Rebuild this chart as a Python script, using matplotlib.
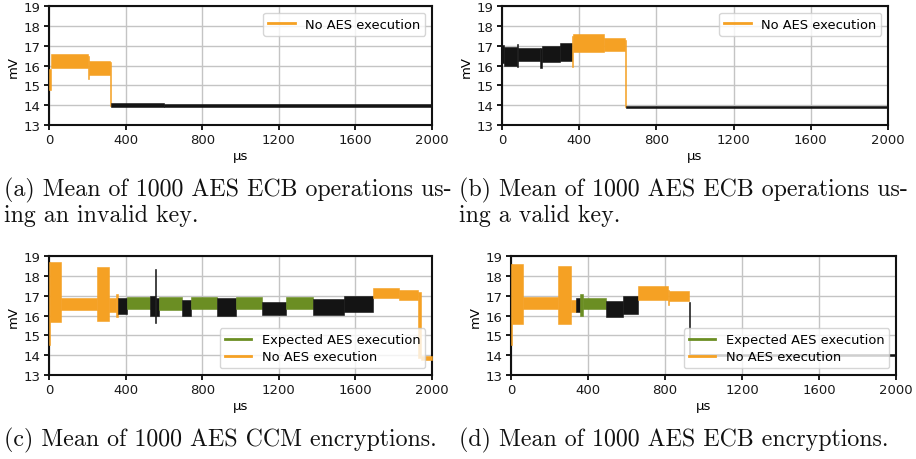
import matplotlib
matplotlib.use("Agg")
import matplotlib.pyplot as plt
from matplotlib.lines import Line2D

# Colour per trace kind
ORANGE = "#f5a124"
GREEN = "#6b8e23"
BLACK = "#141414"
KIND_COLOR = {"idle": ORANGE, "aes": GREEN, "other": BLACK}

# ── Trace envelopes read off the oscilloscope captures (µs, mV) ─────────────
# each segment: start, end, lower envelope, upper envelope, kind

# (a) invalid key
a_start = [0, 12, 202, 208, 316, 322, 600]
a_end = [12, 202, 208, 316, 322, 600, 2000]
a_lo = [14.75, 15.85, 15.3, 15.5, 13.95, 13.93, 13.93]
a_hi = [15.8, 16.6, 16.5, 16.25, 16.2, 14.1, 14.06]
a_kind = ["idle", "idle", "idle", "idle", "idle", "other", "other"]

# (b) valid key
b_start = [0, 10, 78, 84, 199, 205, 300, 364, 370, 530, 636, 645]
b_end = [10, 78, 84, 199, 205, 300, 364, 370, 530, 636, 645, 2000]
b_lo = [16.15, 16.0, 15.9, 16.25, 15.85, 16.2, 16.25, 15.9, 16.7, 16.75, 13.9, 13.85]
b_hi = [17.05, 16.95, 17.1, 16.9, 16.9, 17.0, 17.15, 17.5, 17.6, 17.4, 17.3, 13.98]
b_kind = ["other", "other", "other", "other", "other", "other", "other",
          "idle", "idle", "idle", "idle", "other"]

# (c) AES CCM encryptions
c_start = [0, 4, 61, 249, 313, 352, 358, 405, 527, 553, 559, 576, 697, 744,
           875, 974, 1110, 1237, 1379, 1540, 1692, 1830, 1927, 1940]
c_end = [4, 61, 249, 313, 352, 358, 405, 527, 553, 559, 576, 697, 744, 875,
         974, 1110, 1237, 1379, 1540, 1692, 1830, 1927, 1940, 2000]
c_lo = [14.5, 15.65, 16.3, 15.7, 16.2, 15.9, 16.1, 16.35, 15.95, 15.6, 16.0,
        16.3, 16.0, 16.35, 16.0, 16.35, 16.05, 16.35, 16.05, 16.2, 16.9, 16.8,
        13.85, 13.78]
c_hi = [18.7, 18.7, 16.9, 18.45, 16.9, 17.1, 16.9, 16.95, 17.0, 18.35, 16.9,
        16.95, 16.8, 16.95, 16.9, 16.95, 16.7, 16.95, 16.85, 17.0, 17.4, 17.3,
        17.2, 13.95]
c_kind = ["idle", "idle", "idle", "idle", "idle", "idle", "other", "aes",
          "other", "other", "other", "aes", "other", "aes", "other", "aes",
          "other", "aes", "other", "other", "idle", "idle", "idle", "idle"]

# (d) AES ECB encryptions
d_start = [0, 4, 61, 246, 310, 340, 360, 372, 492, 580, 658, 817, 823, 926,
           932]
d_end = [4, 61, 246, 310, 340, 360, 372, 492, 580, 658, 817, 823, 926, 932,
         2000]
d_lo = [14.5, 15.55, 16.35, 15.55, 16.2, 16.2, 16.0, 16.35, 15.9, 16.1, 16.8,
        16.55, 16.75, 13.95, 13.95]
d_hi = [18.6, 18.6, 16.95, 18.5, 16.8, 16.9, 17.1, 16.9, 16.75, 17.0, 17.5,
        17.3, 17.25, 16.7, 14.05]
d_kind = ["idle", "idle", "idle", "idle", "idle", "other", "aes", "aes",
          "other", "other", "idle", "idle", "idle", "other", "other"]

x_ticks = [0, 400, 800, 1200, 1600, 2000]
y_ticks = [13, 14, 15, 16, 17, 18, 19]

captions = [
    "(a) Mean of 1000 AES ECB operations us-\ning an invalid key.",
    "(b) Mean of 1000 AES ECB operations us-\ning a valid key.",
    "(c) Mean of 1000 AES CCM encryptions.",
    "(d) Mean of 1000 AES ECB encryptions.",
]

W, H = 916, 460
fig = plt.figure(figsize=(W / 100, H / 100), dpi=100)


def px_axes(left, top, right, bottom):
    return fig.add_axes([left / W, 1 - bottom / H, (right - left) / W, (bottom - top) / H])


def draw_panel(ax, start, end, lo, hi, kind, show_aes):
    for x0, x1, y0, y1, k in zip(start, end, lo, hi, kind):
        ax.fill_between([x0, x1], [y0, y0], [y1, y1], color=KIND_COLOR[k],
                        lw=0.4, edgecolor=KIND_COLOR[k], zorder=3)
    ax.set_xlim(0, 2000)
    ax.set_ylim(13, 19)
    ax.set_xticks(x_ticks)
    ax.set_yticks(y_ticks)
    ax.grid(True, color="#c4c4c4", lw=1.0, zorder=0)
    ax.set_axisbelow(True)
    for s in ax.spines.values():
        s.set_linewidth(1.5)
        s.set_color("#111111")
    ax.tick_params(width=1.4, length=3.5, labelsize=9.5, colors="#1a1a1a",
                   pad=2.5)
    ax.set_xlabel("µs", fontsize=9.5, labelpad=2)
    ax.set_ylabel("mV", fontsize=9.5, labelpad=3)
    handles = []
    if show_aes:
        handles.append(Line2D([], [], color=GREEN, lw=2,
                              label="Expected AES execution"))
    handles.append(Line2D([], [], color=ORANGE, lw=2, label="No AES execution"))
    leg = ax.legend(handles=handles, loc="lower right" if show_aes else "upper right",
                    fontsize=9.4, framealpha=0.8, borderpad=0.4,
                    handlelength=2.0, labelspacing=0.3)
    leg.set_zorder(5)


ax_a = px_axes(49, 7, 432, 126)
ax_b = px_axes(502, 7, 888, 126)
ax_c = px_axes(49, 257, 432, 376)
ax_d = px_axes(511, 257, 896, 376)

draw_panel(ax_a, a_start, a_end, a_lo, a_hi, a_kind, False)
draw_panel(ax_b, b_start, b_end, b_lo, b_hi, b_kind, False)
draw_panel(ax_c, c_start, c_end, c_lo, c_hi, c_kind, True)
draw_panel(ax_d, d_start, d_end, d_lo, d_hi, d_kind, True)

cap_kw = dict(family="cmr10", fontsize=17.2, va="top", ha="left",
              linespacing=1.1, color="#111111")
fig.text(4 / W, 1 - 178 / H, captions[0], **cap_kw)
fig.text(459 / W, 1 - 178 / H, captions[1], **cap_kw)
fig.text(4 / W, 1 - 428 / H, captions[2], **cap_kw)
fig.text(459 / W, 1 - 428 / H, captions[3], **cap_kw)

fig.savefig("out.png", dpi=100)
